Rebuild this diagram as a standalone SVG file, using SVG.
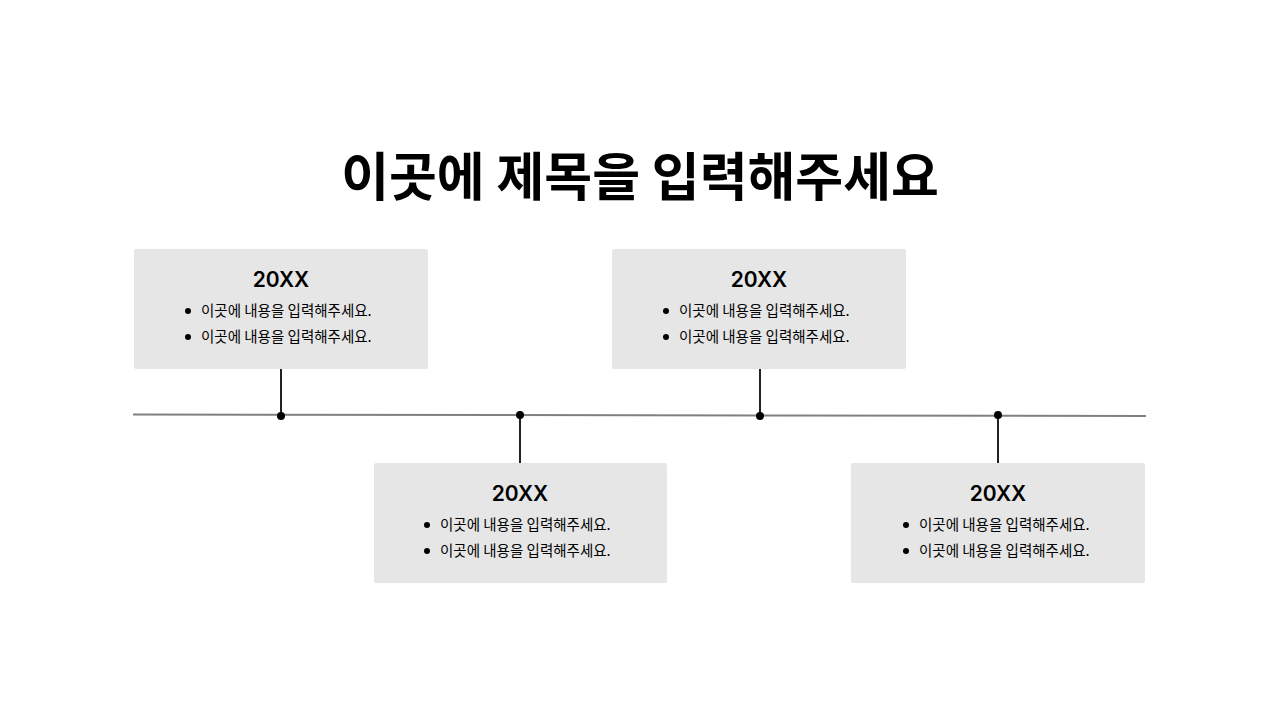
<svg xmlns="http://www.w3.org/2000/svg" width="1280" height="720" viewBox="0 0 1280 720">
<style>
.box{fill:#e6e6e6}
.yr{font-family:Inter,"Noto Sans CJK KR",sans-serif;font-size:21px;font-weight:600;fill:#000;text-anchor:middle}
.it{font-family:"Noto Sans CJK KR",sans-serif;font-size:14.5px;fill:#000}
.stem{stroke:#222;stroke-width:2}
</style>
<rect width="1280" height="720" fill="#fff"/>
<text x="640" y="196" text-anchor="middle" font-family="'Noto Sans CJK KR',sans-serif" font-size="52" font-weight="bold">이곳에 제목을 입력해주세요</text>
<g id="connectors">
<line x1="133" y1="414.5" x2="1146" y2="416" stroke="#808080" stroke-width="2"/>
<line class="stem" x1="281" y1="369" x2="281" y2="416"/>
<line class="stem" x1="520" y1="415" x2="520" y2="463"/>
<line class="stem" x1="760" y1="369" x2="760" y2="416"/>
<line class="stem" x1="998" y1="415" x2="998" y2="463"/>
<circle cx="281" cy="416" r="4"/><circle cx="520" cy="415" r="4"/><circle cx="760" cy="416" r="4"/><circle cx="998" cy="415" r="4"/>
</g>
<g id="n1"><rect class="box" x="134" y="249" width="294" height="120" rx="2"/><text class="yr" x="281" y="287">20XX</text>
<circle cx="188" cy="311" r="3"/><text class="it" x="201" y="316">이곳에 내용을 입력해주세요.</text>
<circle cx="188" cy="337" r="3"/><text class="it" x="201" y="342">이곳에 내용을 입력해주세요.</text></g>
<g id="n2"><rect class="box" x="374" y="463" width="293" height="120" rx="2"/><text class="yr" x="520" y="501">20XX</text>
<circle cx="427" cy="525" r="3"/><text class="it" x="440" y="530">이곳에 내용을 입력해주세요.</text>
<circle cx="427" cy="551" r="3"/><text class="it" x="440" y="556">이곳에 내용을 입력해주세요.</text></g>
<g id="n3"><rect class="box" x="612" y="249" width="294" height="120" rx="2"/><text class="yr" x="759" y="287">20XX</text>
<circle cx="666" cy="311" r="3"/><text class="it" x="679" y="316">이곳에 내용을 입력해주세요.</text>
<circle cx="666" cy="337" r="3"/><text class="it" x="679" y="342">이곳에 내용을 입력해주세요.</text></g>
<g id="n4"><rect class="box" x="851" y="463" width="294" height="120" rx="2"/><text class="yr" x="998" y="501">20XX</text>
<circle cx="906" cy="525" r="3"/><text class="it" x="919" y="530">이곳에 내용을 입력해주세요.</text>
<circle cx="906" cy="551" r="3"/><text class="it" x="919" y="556">이곳에 내용을 입력해주세요.</text></g>
</svg>
